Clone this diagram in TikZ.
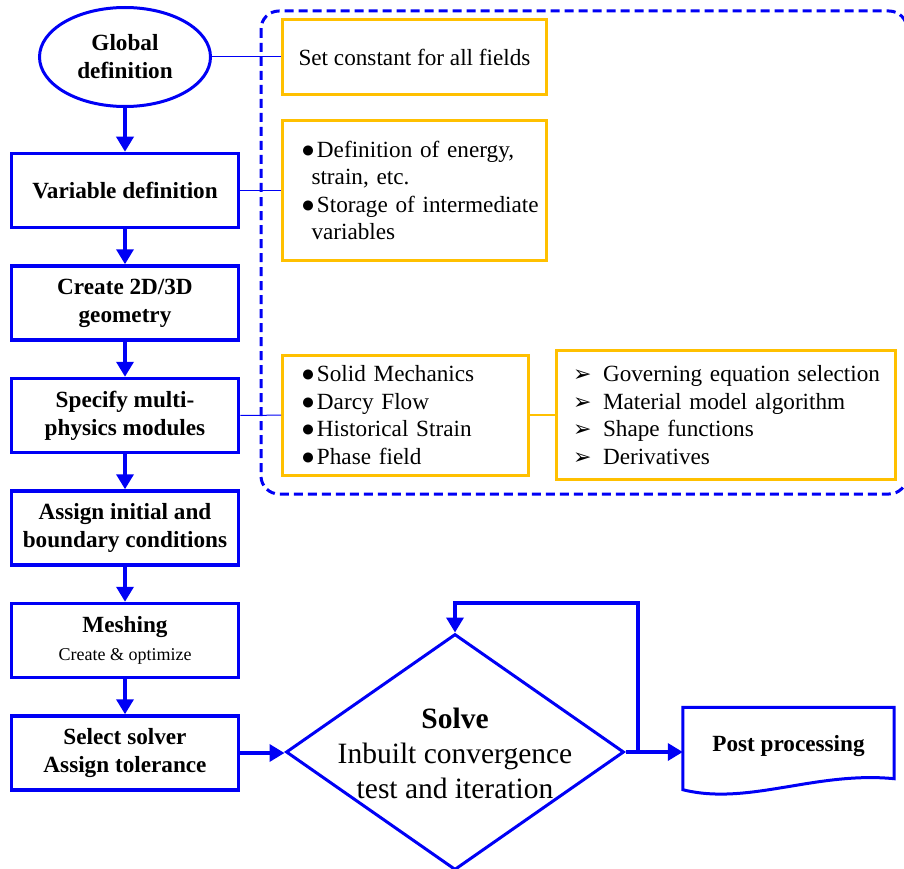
\documentclass[tikz,border=0pt]{standalone}
\usepackage{fontspec}
\setmainfont{Liberation Serif}
\newfontfamily\dingfont{DejaVu Sans}
\usetikzlibrary{positioning,shapes.geometric,arrows.meta}
\definecolor{flowblue}{RGB}{0,0,245}
\definecolor{noteyellow}{RGB}{255,192,0}
\tikzstyle{stepbox} = [draw=flowblue, line width=3.5pt, rectangle,
    minimum width=227pt, minimum height=74pt, inner sep=0pt, align=center,
    font=\fontsize{23.2}{28}\selectfont\bfseries]
\tikzstyle{notebox} = [draw=noteyellow, line width=3pt, rectangle, inner sep=0pt,
    font=\fontsize{23.2}{27.5}\selectfont]
\tikzstyle{flow} = [draw=flowblue, line width=3.5pt, -{Triangle[width=17pt,length=15pt]}]
\tikzstyle{link} = [draw=flowblue, line width=1pt]
\newcommand{\dotitem}{\hspace*{14.5pt}\makebox[16pt][l]{●}}
\newcommand{\dotmore}{\hspace*{25pt}}
\newcommand{\arritem}{\hspace*{12pt}\makebox[30pt][l]{\dingfont\fontsize{22}{22}\selectfont ➢}}
\hyphenpenalty=10000

\begin{document}
\begin{tikzpicture}[x=1pt,y=-1pt]
\path[use as bounding box] (0,0) rectangle (904,869);
\draw[flowblue, line width=3pt, dash pattern=on 9pt off 5pt, rounded corners=18pt]
    (261,11) rectangle (907,494);
\node[ellipse, draw=flowblue, line width=3pt, minimum width=171pt, minimum height=99pt,
    inner sep=0pt, align=center, font=\fontsize{23.2}{28}\selectfont\bfseries]
    (global) at (125,57) {Global\\definition};
\node[stepbox] (vardef) at (125,190.5) {Variable definition};
\node[stepbox, below=35pt of vardef] (geometry) {Create 2D/3D\\geometry};
\node[stepbox, below=35pt of geometry] (physics) {Specify multi-\\physics modules};
\node[stepbox, below=35pt of physics] (bc) {Assign initial and\\boundary conditions};
\node[stepbox, below=35pt of bc] (mesh) {Meshing\\{\fontsize{18}{22}\selectfont\mdseries Create \& optimize}};
\node[stepbox, below=35pt of mesh] (solver) {Select solver\\Assign tolerance};

\node[notebox, minimum width=264pt, minimum height=75pt] (constbox) at (414.5,57)
    {Set constant for all fields};
\node[notebox, minimum width=264pt, minimum height=140pt, text width=256pt, align=left]
    (varbox) at (414.5,190.5)
    {\dotitem Definition of energy,\\\dotmore strain, etc.\\
     \dotitem Storage of intermediate\\\dotmore variables};
\node[notebox, minimum width=246pt, minimum height=120pt, text width=238pt, align=left]
    (modbox) at (405.5,415)
    {\dotitem Solid Mechanics\\\dotitem Darcy Flow\\\dotitem Historical Strain\\\dotitem Phase field};
\node[notebox, minimum width=339pt, minimum height=129pt, text width=330pt, align=left]
    (algbox) at (726,415)
    {\arritem Governing equation selection\\\arritem Material model algorithm\\
     \arritem Shape functions\\\arritem Derivatives};

\node[diamond, draw=flowblue, line width=3pt, minimum width=338pt, minimum height=236pt,
    inner sep=0pt] (solve) at (455,752) {};
\node[align=center, font=\fontsize{29.5}{35}\selectfont] (solvetext) at (455,753)
    {\textbf{Solve}\\Inbuilt convergence\\test and iteration};
\node[minimum width=211pt, minimum height=77pt, inner sep=0pt,
    font=\fontsize{23.2}{28}\selectfont\bfseries] (post) at (788.5,746) {Post processing};
\draw[flowblue, line width=3pt] (post.north west) -- (post.north east)
    -- ([yshift=6pt]post.south east) .. controls (815,771) and (748,806)
    .. ([yshift=-5pt]post.south west) -- cycle;

\foreach \a/\b in {global/vardef, vardef/geometry, geometry/physics, physics/bc, bc/mesh, mesh/solver}
    \draw[flow] (\a) -- (\b);
\draw[flow] (solver.east) -- (solver.east -| solve.west);
\draw[flow] (solve.east) -- (solve.east -| post.west);
\coordinate (loop) at (638,603);
\draw[flow] (solve.east -| loop) |- (loop -| solve.north) -- (solve.north);

\draw[link] (global) -- (constbox);
\draw[link] (vardef) -- (varbox);
\draw[link] (physics) -- (modbox);
\draw[noteyellow, line width=1.2pt] (modbox) -- (algbox);
\end{tikzpicture}
\end{document}
